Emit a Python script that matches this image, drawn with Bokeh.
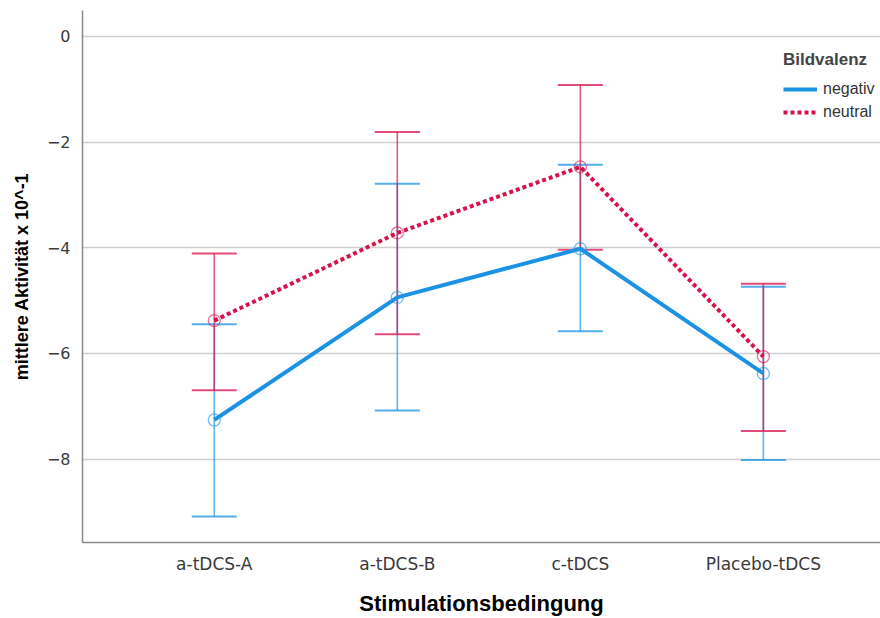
from bokeh.plotting import figure
from bokeh.models import FixedTicker, Legend, LegendItem, Range1d
from bokeh.embed import file_html
from bokeh.resources import INLINE

# Stimulation conditions on the x axis
categories = ["a-tDCS-A", "a-tDCS-B", "c-tDCS", "Placebo-tDCS"]

# Mean activity (x 10^-1) with error bar limits, per picture valence
neg_mean = [-7.26, -4.94, -4.02, -6.38]
neg_upper = [-5.45, -2.79, -2.43, -4.74]
neg_lower = [-9.09, -7.08, -5.58, -8.02]

neu_mean = [-5.38, -3.72, -2.47, -6.06]
neu_upper = [-4.11, -1.81, -0.92, -4.68]
neu_lower = [-6.70, -5.64, -4.04, -7.47]

y_ticks = [0, -2, -4, -6, -8]
y_tick_labels = ["0", "\u22122", "\u22124", "\u22126", "\u22128"]

BLUE = "#1b93e5"
RED = "#d7124b"
CAP = 0.123

xs = list(range(len(categories)))

p = figure(width=880, height=618, output_backend="svg", toolbar_location=None,
           x_range=Range1d(-0.72, 3.64), y_range=Range1d(-9.58, 0.49),
           min_border_left=82, min_border_right=0, min_border_top=10,
           min_border_bottom=74)
p.outline_line_color = None
p.background_fill_color = "white"

# axes
p.xaxis.ticker = FixedTicker(ticks=xs)
p.xaxis.major_label_overrides = {i: c for i, c in enumerate(categories)}
p.yaxis.ticker = FixedTicker(ticks=y_ticks)
p.yaxis.major_label_overrides = {t: l for t, l in zip(y_ticks, y_tick_labels)}
for ax in (p.xaxis, p.yaxis):
    ax.axis_line_color = "#8a8a8a"
    ax.axis_line_width = 1.5
    ax.major_tick_line_color = None
    ax.minor_tick_line_color = None
    ax.major_label_text_font = "DejaVu Sans"
    ax.major_label_text_color = "#3a3a3a"
    ax.axis_label_text_font = "Liberation Sans"
    ax.axis_label_text_font_style = "bold"
    ax.axis_label_text_color = "black"
p.xaxis.major_label_text_font_size = "17px"
p.yaxis.major_label_text_font_size = "16px"
p.xaxis.major_label_standoff = 5
p.xaxis.axis_label = "Stimulationsbedingung"
p.xaxis.axis_label_text_font_size = "22px"
p.xaxis.axis_label_standoff = 14
p.yaxis.major_label_standoff = 6
p.yaxis.axis_label = "mittlere Aktivität x 10^-1"
p.yaxis.axis_label_text_font_size = "18px"
p.yaxis.axis_label_standoff = 12

p.xgrid.grid_line_color = None
p.ygrid.grid_line_color = "#cfcfcf"
p.ygrid.grid_line_width = 1.5

# error bars
for color, lo, hi in ((BLUE, neg_lower, neg_upper), (RED, neu_lower, neu_upper)):
    p.segment(x0=xs, y0=lo, x1=xs, y1=hi, line_color=color, line_width=1.6, line_alpha=0.7)
    p.segment(x0=[x - CAP for x in xs], y0=lo, x1=[x + CAP for x in xs], y1=lo,
              line_color=color, line_width=2, line_alpha=0.75)
    p.segment(x0=[x - CAP for x in xs], y0=hi, x1=[x + CAP for x in xs], y1=hi,
              line_color=color, line_width=2, line_alpha=0.75)

# mean lines
r_neg = p.line(xs, neg_mean, line_color=BLUE, line_width=4)
r_neu = p.line(xs, neu_mean, line_color=RED, line_width=4, line_dash="4 3")
p.scatter(xs, neg_mean, marker="circle", size=12, fill_color=None,
          line_color=BLUE, line_width=1.3, line_alpha=0.6)
p.scatter(xs, neu_mean, marker="circle", size=12, fill_color=None,
          line_color=RED, line_width=1.3, line_alpha=0.6)

legend = Legend(items=[LegendItem(label="negativ", renderers=[r_neg]),
                       LegendItem(label="neutral", renderers=[r_neu])],
                location=(701, 420), title="Bildvalenz",
                title_text_font="Liberation Sans", title_text_font_style="bold",
                title_text_font_size="17px", title_standoff=9,
                label_text_font="Liberation Sans", label_text_font_size="16px",
                label_text_color="#333333",
                glyph_width=34, glyph_height=20, label_height=20, label_standoff=6,
                spacing=3, padding=0, margin=0,
                border_line_color=None, background_fill_alpha=0)
p.add_layout(legend)

open("out.html", "w").write(file_html(p, INLINE))
